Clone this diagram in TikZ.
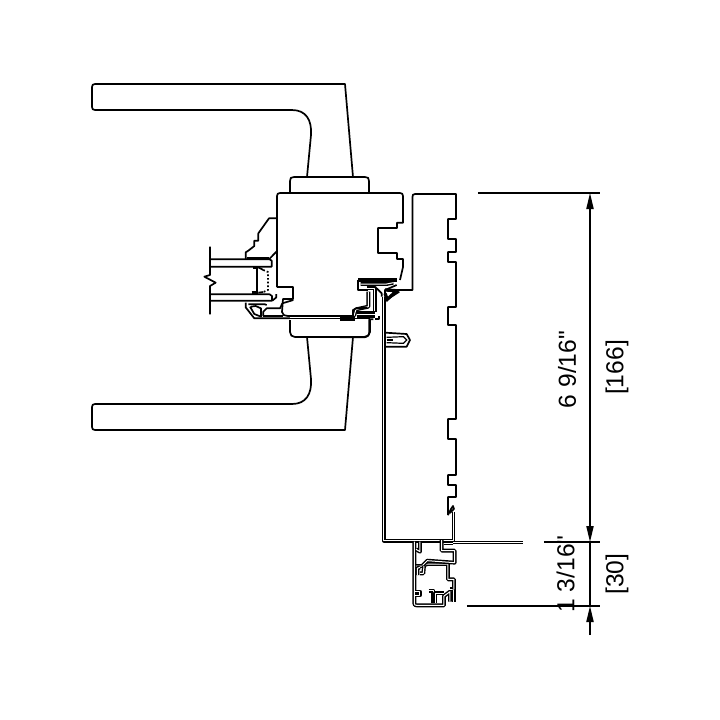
\documentclass[tikz,border=0pt]{standalone}
\usepackage{fontspec}
\newfontfamily\dimfont{Liberation Sans}
\usetikzlibrary{arrows.meta}
\tikzset{
 ln/.style={draw=black,line width=.85pt,line join=round},
 thin ln/.style={draw=black,line width=.6pt},
 dbl/.style={draw=black,double=white,line width=.72pt,double distance=.5pt,line join=round},
 heavy/.style={draw=black,line width=1.6pt},
 dimline/.style={draw=black,line width=.7pt},
 dimtip/.style={dimline,-{Triangle[width=3.6pt,length=8pt]}},
 dimtext/.style={font=\dimfont\fontsize{12.3pt}{14pt}\selectfont,rotate=90,inner sep=0pt},
 zA/.style={shift={(190,180)},scale=1/3},
 zB/.style={shift={(370,490)},scale=1/3},
 zC/.style={shift={(340,260)},scale=1/3},
 zD/.style={shift={(195,210)},scale=1/3}
}
\begin{document}
\begin{tikzpicture}[x=.5pt,y=-.5pt]
\useasboundingbox (0,0) rectangle (720,720);
% levers
\draw[ln] (307,177) -- (311,135) .. controls (312,120) and (306,110) .. (292,110) -- (95,110) .. controls (93,110) and (92,109) .. (92,107) -- (92,87) .. controls (92,85) and (93,84) .. (95,84) -- (345,84) -- (353,177);
\draw[ln] (307,337) -- (311,379) .. controls (312,394) and (306,404) .. (292,404) -- (95,404) .. controls (93,404) and (92,405) .. (92,407) -- (92,427) .. controls (92,429) and (93,430) .. (95,430) -- (345,430) -- (353,337);
% collars
\draw[ln] (290,193) -- (290,181) .. controls (290,178) and (291,177) .. (294,177) -- (365,177) .. controls (368,177) and (369,178) .. (369,181) -- (369,193);
\draw[ln] (290,320) -- (290,332) .. controls (290,335) and (292,337) .. (295,337) -- (364,337) .. controls (367,337) and (370,335) .. (370,332) -- (370,319);
% door block
\draw[ln] (277,287) -- (277,196) .. controls (277,194) and (278,193) .. (280,193) -- (400,193) .. controls (402,193) and (403,194) .. (403,196) -- (403,222.7) -- (397,222.7) -- (397,228) -- (378,228) -- (378,253) -- (397,253) -- (397,259) -- (403,259) -- (403,267) -- (400,280);
\draw[ln] (277,287) -- (293,287) -- (293,299) -- (283,299) -- (282,312) .. controls (282,315) and (285,316) .. (288,316) -- (353,316);
% frame outline
\draw[ln] (397,290) -- (412.5,290) -- (412.5,197) .. controls (412.5,195) and (413,194) .. (415,194) -- (456,194) -- (456,219) -- (448,219) -- (448,239) -- (456,239) -- (456,252) -- (448,252) -- (448,262) -- (456,262) -- (456,307) -- (448,307) -- (448,325) -- (456,325) -- (456,419) -- (448,419) -- (448,439) -- (456,439) -- (456,475) -- (448,475) -- (448,485) -- (456,485) -- (456,497) -- (448,497) -- (448,515);
% strip
\draw[dbl] (384,297) -- (384,540.7) -- (453.5,540.7) -- (453.5,512) ;
\draw[ln] (448,515) -- (451,509) -- (453,506) -- (454,509) -- (450,513);
\draw[dbl] (453.5,542.5) -- (523,542.5);
% extrusion
\begin{scope}[zB]
\draw[dbl] (133,155) -- (133,340) .. controls (133,345) and (135,346) .. (140,346) -- (222,346) -- (222,318) -- (240,305) -- (240,335);
\draw[dbl] (240,298) -- (252,298) -- (252,335);
\draw[dbl] (252,298) -- (252,268) -- (234,268) -- (234,222) -- (172,222) -- (158,228) -- (138,228);
\draw[dbl] (215,150) -- (215,182) -- (254,182) -- (254,218) -- (172,212) -- (158,226);
\draw[dbl] (222,160) -- (250,160);
\draw[dbl] (150,155) -- (150,185) -- (138,178);
\draw[dbl] (162,228) -- (160,250) -- (150,250);
\draw[dbl] (142,255) -- (142,235) -- (150,232);
\draw[dbl] (136,305) -- (150,305) -- (150,316) -- (135,316);
\draw[dbl] (176,302) -- (190,302) -- (190,340);
\draw[dbl] (196,340) -- (196,310) -- (222,310);
\end{scope}
% rivet
\begin{scope}[zA]
\draw[ln] (586,458) -- (650,462) -- (660,480) -- (650,500) -- (586,500);
\draw[thin ln] (590,472) -- (640,470) -- (650,480) -- (640,490) -- (590,488);
\draw[thin ln] (590,480) -- (610,480);
\end{scope}
% hardware
\begin{scope}[zC]
\draw[heavy] (55,60) -- (170,60);
\draw[ln] (55,60) -- (55,90) -- (85,90);
\draw[dbl] (62,72) -- (140,72) -- (160,68);
\draw[dbl] (80,84) -- (105,84) -- (105,155);
\draw[dbl] (85,95) -- (85,140) -- (48,148) -- (42,168);
\draw[heavy] (50,158) -- (105,158);
\draw[heavy] (50,170) -- (105,170);
\draw[ln] (105,178) -- (118,178) -- (118,168);
\draw[ln] (110,85) -- (125,100) -- (125,110);
\draw[ln] (135,110) -- (135,90) -- (170,75);
\draw[heavy] (135,90) -- (170,92) -- (142,118) -- (135,100);
\draw[ln] (142,118) -- (178,95);
\draw[ln] (100,178) -- (88,178) -- (88,215) .. controls (88,228) and (80,232) .. (70,232) -- (0,232);
\draw[ln] (0,170) -- (45,170);
\draw[ln] (0,180) -- (45,180);
\end{scope}
% glass and trim
\begin{scope}[zD]
\draw[ln] (45,110) -- (45,195) -- (28,200) -- (62,218) -- (45,228) -- (45,313);
\draw[ln] (45,148) -- (224,148) -- (230,152) -- (230,170) -- (45,170);
\draw[ln] (45,253) -- (224,253) -- (231,258) -- (231,272) -- (45,272);
\draw[ln] (152,148) -- (152,127) -- (160,122) -- (178,108) -- (178,92) -- (190,92) -- (190,70) -- (222,25) -- (247,25);
\draw[ln] (247,122) -- (222,148);
\draw[heavy] (155,146) -- (222,146);
\draw[heavy] (175,172) -- (190,172);
\draw[heavy] (170,248) -- (190,248);
\draw[ln] (187,176) -- (187,246);
\draw[ln,densely dotted] (205,180) -- (219,186) -- (219,240) -- (205,246);
\draw[ln] (205,180) -- (190,172);
\draw[ln] (205,246) -- (190,248);
\draw[ln] (152,278) -- (152,292) -- (178,325) -- (285,325);
\draw[ln] (160,283) -- (210,283) -- (215,285);
\draw[ln] (165,290) -- (178,312) -- (198,320) -- (198,295) -- (182,288) -- (168,290);
\draw[ln] (232,272) -- (244,262) -- (244,252);
\draw[ln] (205,318) -- (205,305) -- (215,295) -- (255,295) -- (262,280) -- (295,270);
\draw[ln] (205,318) -- (265,318);
\end{scope}
\draw[ln] (255,318.5) -- (370,318.5);
\draw[ln] (353,316) -- (353,310) -- (357,308) -- (367,308);
% dimensions
\coordinate (t1) at (478,193);  \coordinate (t1e) at (600,193);
\coordinate (t2) at (544,542);  \coordinate (t2e) at (600,542);
\coordinate (t3) at (467,606);  \coordinate (t3e) at (600,606);
\coordinate (dtop) at (590,193);
\coordinate (dmid) at (590,542);
\coordinate (dbot) at (590,606);
\coordinate (dend) at (590,635);
\coordinate (dcentre) at (590,360);
\draw[dimline] (t1) -- (t1e);
\draw[dimline] (t2) -- (t2e);
\draw[dimline] (t3) -- (t3e);
\draw[dimline] (dmid) -- (dbot);
\draw[dimtip] (dcentre) -- (dtop);
\draw[dimtip] (dcentre) -- (dmid);
\draw[dimtip] (dend) -- (dbot);
\node[dimtext] (a) at (567,369.5) {6 9/16"};
\node[dimtext] (b) at (617,367.5) {[166]};
\node[dimtext] (c) at (565.5,574) {1 3/16"};
\node[dimtext] (d) at (617,574) {[30]};
\end{tikzpicture}
\end{document}
